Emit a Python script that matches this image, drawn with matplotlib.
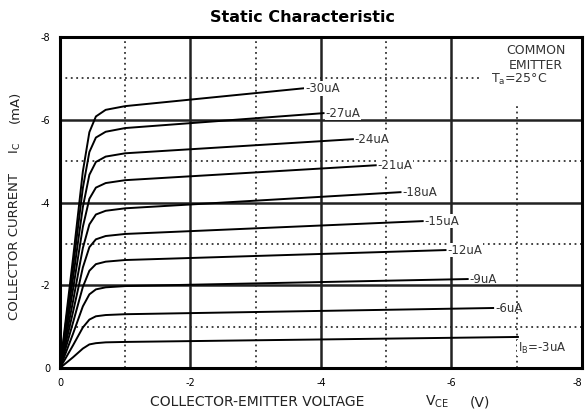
import matplotlib
matplotlib.use("Agg")
import matplotlib.pyplot as plt
from matplotlib.patches import Rectangle

plt.rcParams['font.family'] = ['DejaVu Sans']

# base current of each curve (uA) and its label
base_ua = [-30, -27, -24, -21, -18, -15, -12, -9, -6, -3]
labels = ["-30uA", "-27uA", "-24uA", "-21uA", "-18uA", "-15uA",
          "-12uA", "-9uA", "-6uA", r"$\mathregular{I_B}$=-3uA"]

# shared voltage points of the knee region, then the end voltage of each curve (V)
vce_knee = [0, -0.2, -0.35, -0.45, -0.55, -0.7, -1.0]
vce_end = [-3.73, -4.04, -4.49, -4.84, -5.22, -5.56, -5.91, -6.25, -6.64, -7.02]

# collector current (mA)
ic = [
    [0, -2.66, -4.75, -5.70, -6.08, -6.24, -6.33, -6.76],
    [0, -2.44, -4.35, -5.22, -5.57, -5.71, -5.80, -6.16],
    [0, -2.18, -3.89, -4.67, -4.98, -5.11, -5.19, -5.53],
    [0, -1.91, -3.41, -4.09, -4.36, -4.47, -4.54, -4.90],
    [0, -1.62, -2.90, -3.47, -3.71, -3.80, -3.86, -4.25],
    [0, -1.36, -2.43, -2.92, -3.11, -3.19, -3.24, -3.55],
    [0, -1.10, -1.96, -2.35, -2.51, -2.57, -2.61, -2.85],
    [0, -0.83, -1.49, -1.78, -1.90, -1.95, -1.98, -2.15],
    [0, -0.55, -0.98, -1.17, -1.25, -1.28, -1.30, -1.45],
    [0, -0.26, -0.47, -0.57, -0.60, -0.62, -0.63, -0.75],
]

major = [-2, -4, -6]
minor = [-1, -3, -5, -7]
ticks = [0, -2, -4, -6, -8]
tick_labels = ["0", "-2", "-4", "-6", "-8"]

fig = plt.figure(figsize=(5.85, 4.16), dpi=100)
ax = fig.add_axes([0.1026, 0.1154, 0.892, 0.7956])

ax.set_xlim(0, -8)
ax.set_ylim(0, -8)

# dotted grid
for v in minor:
    ax.axvline(v, color="#333333", lw=1.3, ls=(0, (1, 2)), zorder=1)
    ax.axhline(v, color="#333333", lw=1.3, ls=(0, (1, 2)), zorder=1)

# white area behind the note, it hides the dotted lines only
ax.add_patch(Rectangle((-6.45, -8), -1.55, 1.65, facecolor="white",
                       edgecolor="none", zorder=1.5))

for v in major:
    ax.axvline(v, color="#222222", lw=1.8, zorder=2)
    ax.axhline(v, color="#222222", lw=1.8, zorder=2)

for i in range(len(base_ua)):
    x = vce_knee + [vce_end[i]]
    ax.plot(x, ic[i], color="black", lw=1.4, zorder=3)
    if base_ua[i] == -3:
        ax.text(vce_end[i], ic[i][-1] + 0.27, labels[i], fontsize=8.5,
                ha="left", va="center", color="#333333", zorder=4,
                bbox=dict(facecolor="white", edgecolor="none", pad=0.3))
    elif base_ua[i] in (-9, -6):
        ax.text(vce_end[i] - 0.03, ic[i][-1], labels[i], fontsize=8.5,
                ha="left", va="center", color="#333333", zorder=4)
    else:
        ax.text(vce_end[i] - 0.03, ic[i][-1], labels[i], fontsize=8.5,
                ha="left", va="center", color="#333333", zorder=4,
                bbox=dict(facecolor="white", edgecolor="none", pad=0.6))

ax.text(-7.3, -7.5, "COMMON\nEMITTER", fontsize=9, ha="center",
        va="center", color="#333333", linespacing=1.2, zorder=4)
ax.text(-6.6, -6.98, r"$\mathregular{T_a}$=25°C", fontsize=9, ha="left",
        va="center", color="#333333", zorder=4)

ax.set_xticks(ticks)
ax.set_xticklabels(tick_labels, fontsize=7)
ax.get_xticklabels()[-1].set_ha("right")
ax.set_yticks(ticks)
ax.set_yticklabels(tick_labels, fontsize=7)
ax.tick_params(length=0, pad=7)

for s in ax.spines.values():
    s.set_linewidth(2.2)
    s.set_zorder(5)

fig.text(302 / 585, 1 - 17 / 416, "Static Characteristic", fontsize=11.5,
         fontweight="bold", ha="center", va="center")

# x axis title in three parts
fig.text(150 / 585, 1 - 402 / 416, "COLLECTOR-EMITTER VOLTAGE", fontsize=10,
         ha="left", va="center", color="#222222")
fig.text(437 / 585, 1 - 402 / 416, r"$\mathregular{V_{CE}}$", fontsize=10,
         ha="center", va="center", color="#222222")
fig.text(480 / 585, 1 - 402 / 416, "(V)", fontsize=10,
         ha="center", va="center", color="#222222")

# y axis title in three parts
fig.text(15 / 585, 1 - 247 / 416, "COLLECTOR CURRENT", fontsize=9.5,
         rotation=90, ha="center", va="center", color="#222222")
fig.text(15 / 585, 1 - 148 / 416, r"$\mathregular{I_C}$", fontsize=9.5,
         rotation=90, ha="center", va="center", color="#222222")
fig.text(15 / 585, 1 - 107 / 416, "(mA)", fontsize=9.5,
         rotation=90, ha="center", va="center", color="#222222")

fig.savefig("out.png", dpi=100)
